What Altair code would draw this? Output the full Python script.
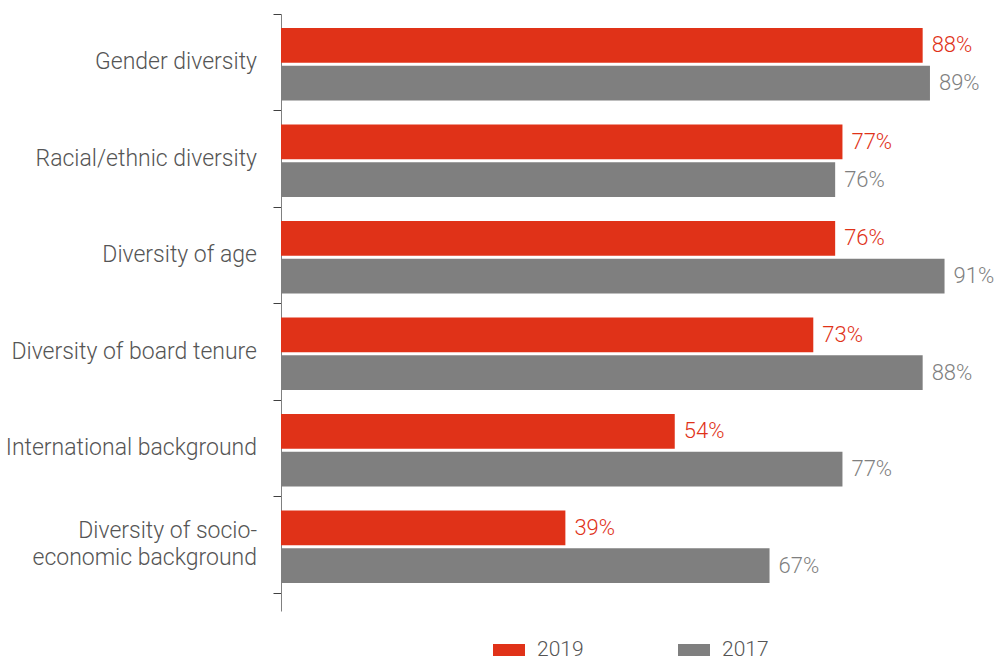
import altair as alt
import pandas as pd

categories = [
    "Gender diversity",
    "Racial/ethnic diversity",
    "Diversity of age",
    "Diversity of board tenure",
    "International background",
    "Diversity of socio-|economic background",
]
values_2019 = [88, 77, 76, 73, 54, 39]
values_2017 = [89, 76, 91, 88, 77, 67]
years = ["2019", "2017"]
colors = ["#e03218", "#7f7f7f"]

rows = []
for c, v19, v17 in zip(categories, values_2019, values_2017):
    rows.append({"category": c, "year": "2019", "value": v19, "label": f"{v19}%"})
    rows.append({"category": c, "year": "2017", "value": v17, "label": f"{v17}%"})
df = pd.DataFrame(rows)
cat_df = pd.DataFrame({"category": categories, "multi": ["|" in c for c in categories]})

FONT = "Roboto"

y_enc = alt.Y(
    "category:N",
    sort=categories,
    scale=alt.Scale(paddingInner=0, paddingOuter=0.0933, align=0),
    axis=alt.Axis(
        title=None,
        tickBand="extent",
        tickSize=8,
        tickColor="#404040",
        domainColor="#808080",
        labels=False,
    ),
)
yoff = alt.YOffset(
    "year:N",
    sort=years,
    scale=alt.Scale(paddingInner=0.079, paddingOuter=0.316, align=0.583),
)
x_scale = alt.Scale(domain=[0, 96], nice=False)
x_enc = alt.X("value:Q", scale=x_scale, axis=None)
color_enc = alt.Color(
    "year:N",
    sort=years,
    scale=alt.Scale(domain=years, range=colors),
    legend=alt.Legend(
        title=None,
        orient="none",
        legendX=212,
        legendY=620,
        direction="horizontal",
        symbolType="M-1,-0.375H1V0.375H-1Z",
        symbolSize=1024,
        symbolStrokeWidth=0,
        symbolOpacity=1,
        labelFontSize=21,
        labelFont=FONT,
        labelFontWeight=300,
        labelColor="#555555",
        labelOffset=12,
        columnPadding=94,
    ),
)

bars = alt.Chart(df).mark_bar().encode(x=x_enc, y=y_enc, yOffset=yoff, color=color_enc)
text = alt.Chart(df).mark_text(
    align="left", baseline="middle", dx=9, fontSize=22, font=FONT, fontWeight=300
).encode(
    x=x_enc,
    y=y_enc,
    yOffset=yoff,
    text="label:N",
    color=alt.Color("year:N", sort=years, scale=alt.Scale(domain=years, range=colors), legend=None),
)

cat_style = dict(
    align="right", baseline="middle", dx=-24, fontSize=23, font=FONT,
    fontWeight=300, color="#555555", lineBreak="|", lineHeight=27,
)
cat_single = (
    alt.Chart(cat_df)
    .transform_filter("!datum.multi")
    .mark_text(**cat_style)
    .encode(x=alt.datum(0, scale=x_scale), y=y_enc, text="category:N")
)
cat_multi = (
    alt.Chart(cat_df)
    .transform_filter("datum.multi")
    .mark_text(dy=-13.5, **cat_style)
    .encode(x=alt.datum(0, scale=x_scale), y=y_enc, text="category:N")
)

chart = (
    alt.layer(bars, text, cat_single, cat_multi)
    .properties(
        width=700,
        height=597,
        autosize=alt.AutoSizeParams(type="none"),
        padding={"left": 281, "top": 14, "right": 17, "bottom": 49},
    )
    .configure_view(stroke=None)
)

chart.save("out.html", embed_options={"renderer": "svg", "actions": False})
